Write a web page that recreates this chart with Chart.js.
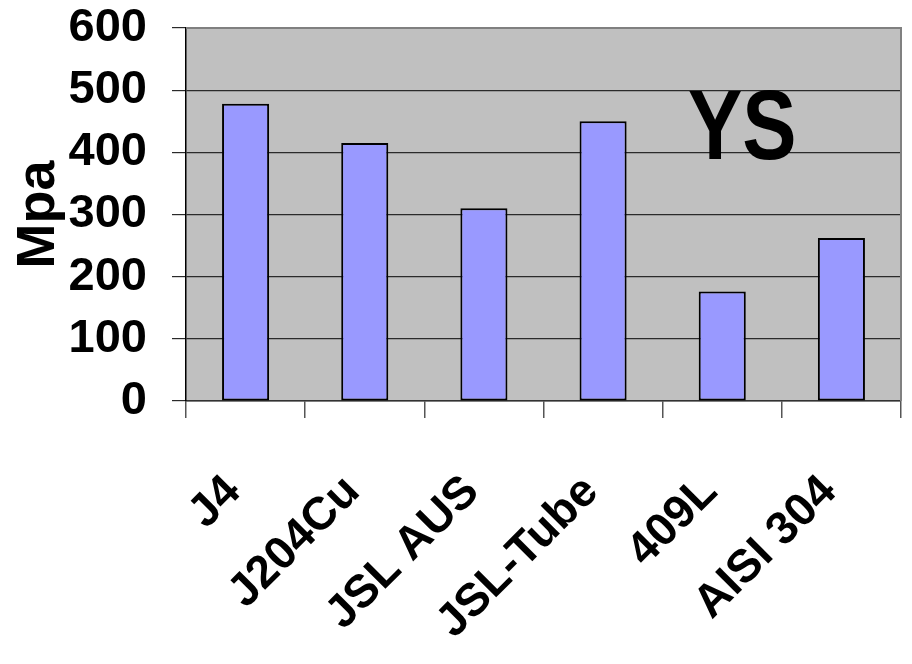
<!DOCTYPE html>
<html>
<head>
<meta charset="utf-8">
<script src="https://cdn.jsdelivr.net/npm/chart.js@4.4.1/dist/chart.umd.min.js"></script>
<style>
html,body{margin:0;padding:0;background:#fff;}
#wrap{width:912px;height:664px;}
</style>
</head>
<body>
<div id="wrap"><canvas id="c" width="912" height="664"></canvas></div>
<script>
const categories = ["J4", "J204Cu", "JSL AUS", "JSL-Tube", "409L", "AISI 304"];
const ysValues = [478, 415, 310, 450, 176, 262];
const yTicks = [0, 100, 200, 300, 400, 500, 600];
const axisTitle = "Mpa";
const insideLabel = "YS";

const FONT = "'Liberation Sans', Arial, sans-serif";

const bgPlugin = {
  id: 'bg',
  beforeDraw(chart) {
    const {ctx, chartArea: a} = chart;
    ctx.save();
    ctx.fillStyle = '#C0C0C0';
    ctx.fillRect(a.left, a.top, a.right - a.left, a.bottom - a.top);
    ctx.restore();
  },
  afterDatasetsDraw(chart) {
    const {ctx, chartArea: a} = chart;
    ctx.save();
    ctx.strokeStyle = '#808080';
    ctx.lineWidth = 2;
    ctx.beginPath();
    ctx.moveTo(a.left, a.top);
    ctx.lineTo(a.right, a.top);
    ctx.lineTo(a.right, a.bottom);
    ctx.stroke();
    ctx.fillStyle = '#000';
    ctx.font = "bold 98px " + FONT;
    ctx.textAlign = 'center';
    ctx.textBaseline = 'alphabetic';
    const x = a.left + (a.right - a.left) * 0.778;
    const y = a.top + (a.bottom - a.top) * 0.35;
    ctx.translate(x, y);
    ctx.scale(0.83, 1);
    ctx.fillText(insideLabel, 0, 0);
    ctx.restore();
  }
};

new Chart(document.getElementById('c'), {
  type: 'bar',
  data: {
    labels: categories,
    datasets: [{
      data: ysValues,
      backgroundColor: '#9999FF',
      borderColor: '#000000',
      borderWidth: 2,
      borderSkipped: false,
      categoryPercentage: 1.0,
      barPercentage: 0.395
    }]
  },
  options: {
    responsive: false,
    animation: false,
    devicePixelRatio: 1,
    layout: { padding: { top: 28, right: 11, left: 0, bottom: 0 } },
    plugins: { legend: { display: false }, tooltip: { enabled: false } },
    scales: {
      x: {
        offset: true,
        grid: { offset: true, drawOnChartArea: false, drawTicks: true, tickLength: 17, color: '#555', lineWidth: 1.5 },
        border: { display: true, color: '#333', width: 1.5 },
        ticks: {
          color: '#000',
          font: { family: FONT, size: 46, weight: 'bold' },
          minRotation: 45, maxRotation: 45,
          padding: 47,
          labelOffset: -12,
          autoSkip: false
        },
        afterFit(scale) { scale.height = 263; scale.paddingLeft = 0; scale.paddingRight = 0; }
      },
      y: {
        min: 0, max: 600,
        afterBuildTicks(scale) { scale.ticks = yTicks.map(v => ({ value: v })); },
        grid: { color: '#2a2a2a', lineWidth: 1.2, tickLength: 14, drawTicks: true },
        border: { display: true, color: '#000', width: 1.5 },
        ticks: {
          color: '#000',
          autoSkip: false,
          font: { family: FONT, size: 47, weight: 'bold' },
          padding: 25
        },
        title: {
          display: true,
          text: axisTitle,
          color: '#000',
          font: { family: FONT, size: 54, weight: 'bold' },
          padding: { top: 7, bottom: 0 }
        },
        afterFit(scale) { scale.width = 186; scale.paddingTop = 0; scale.paddingBottom = 0; }
      }
    }
  },
  plugins: [bgPlugin]
});
</script>
</body>
</html>
